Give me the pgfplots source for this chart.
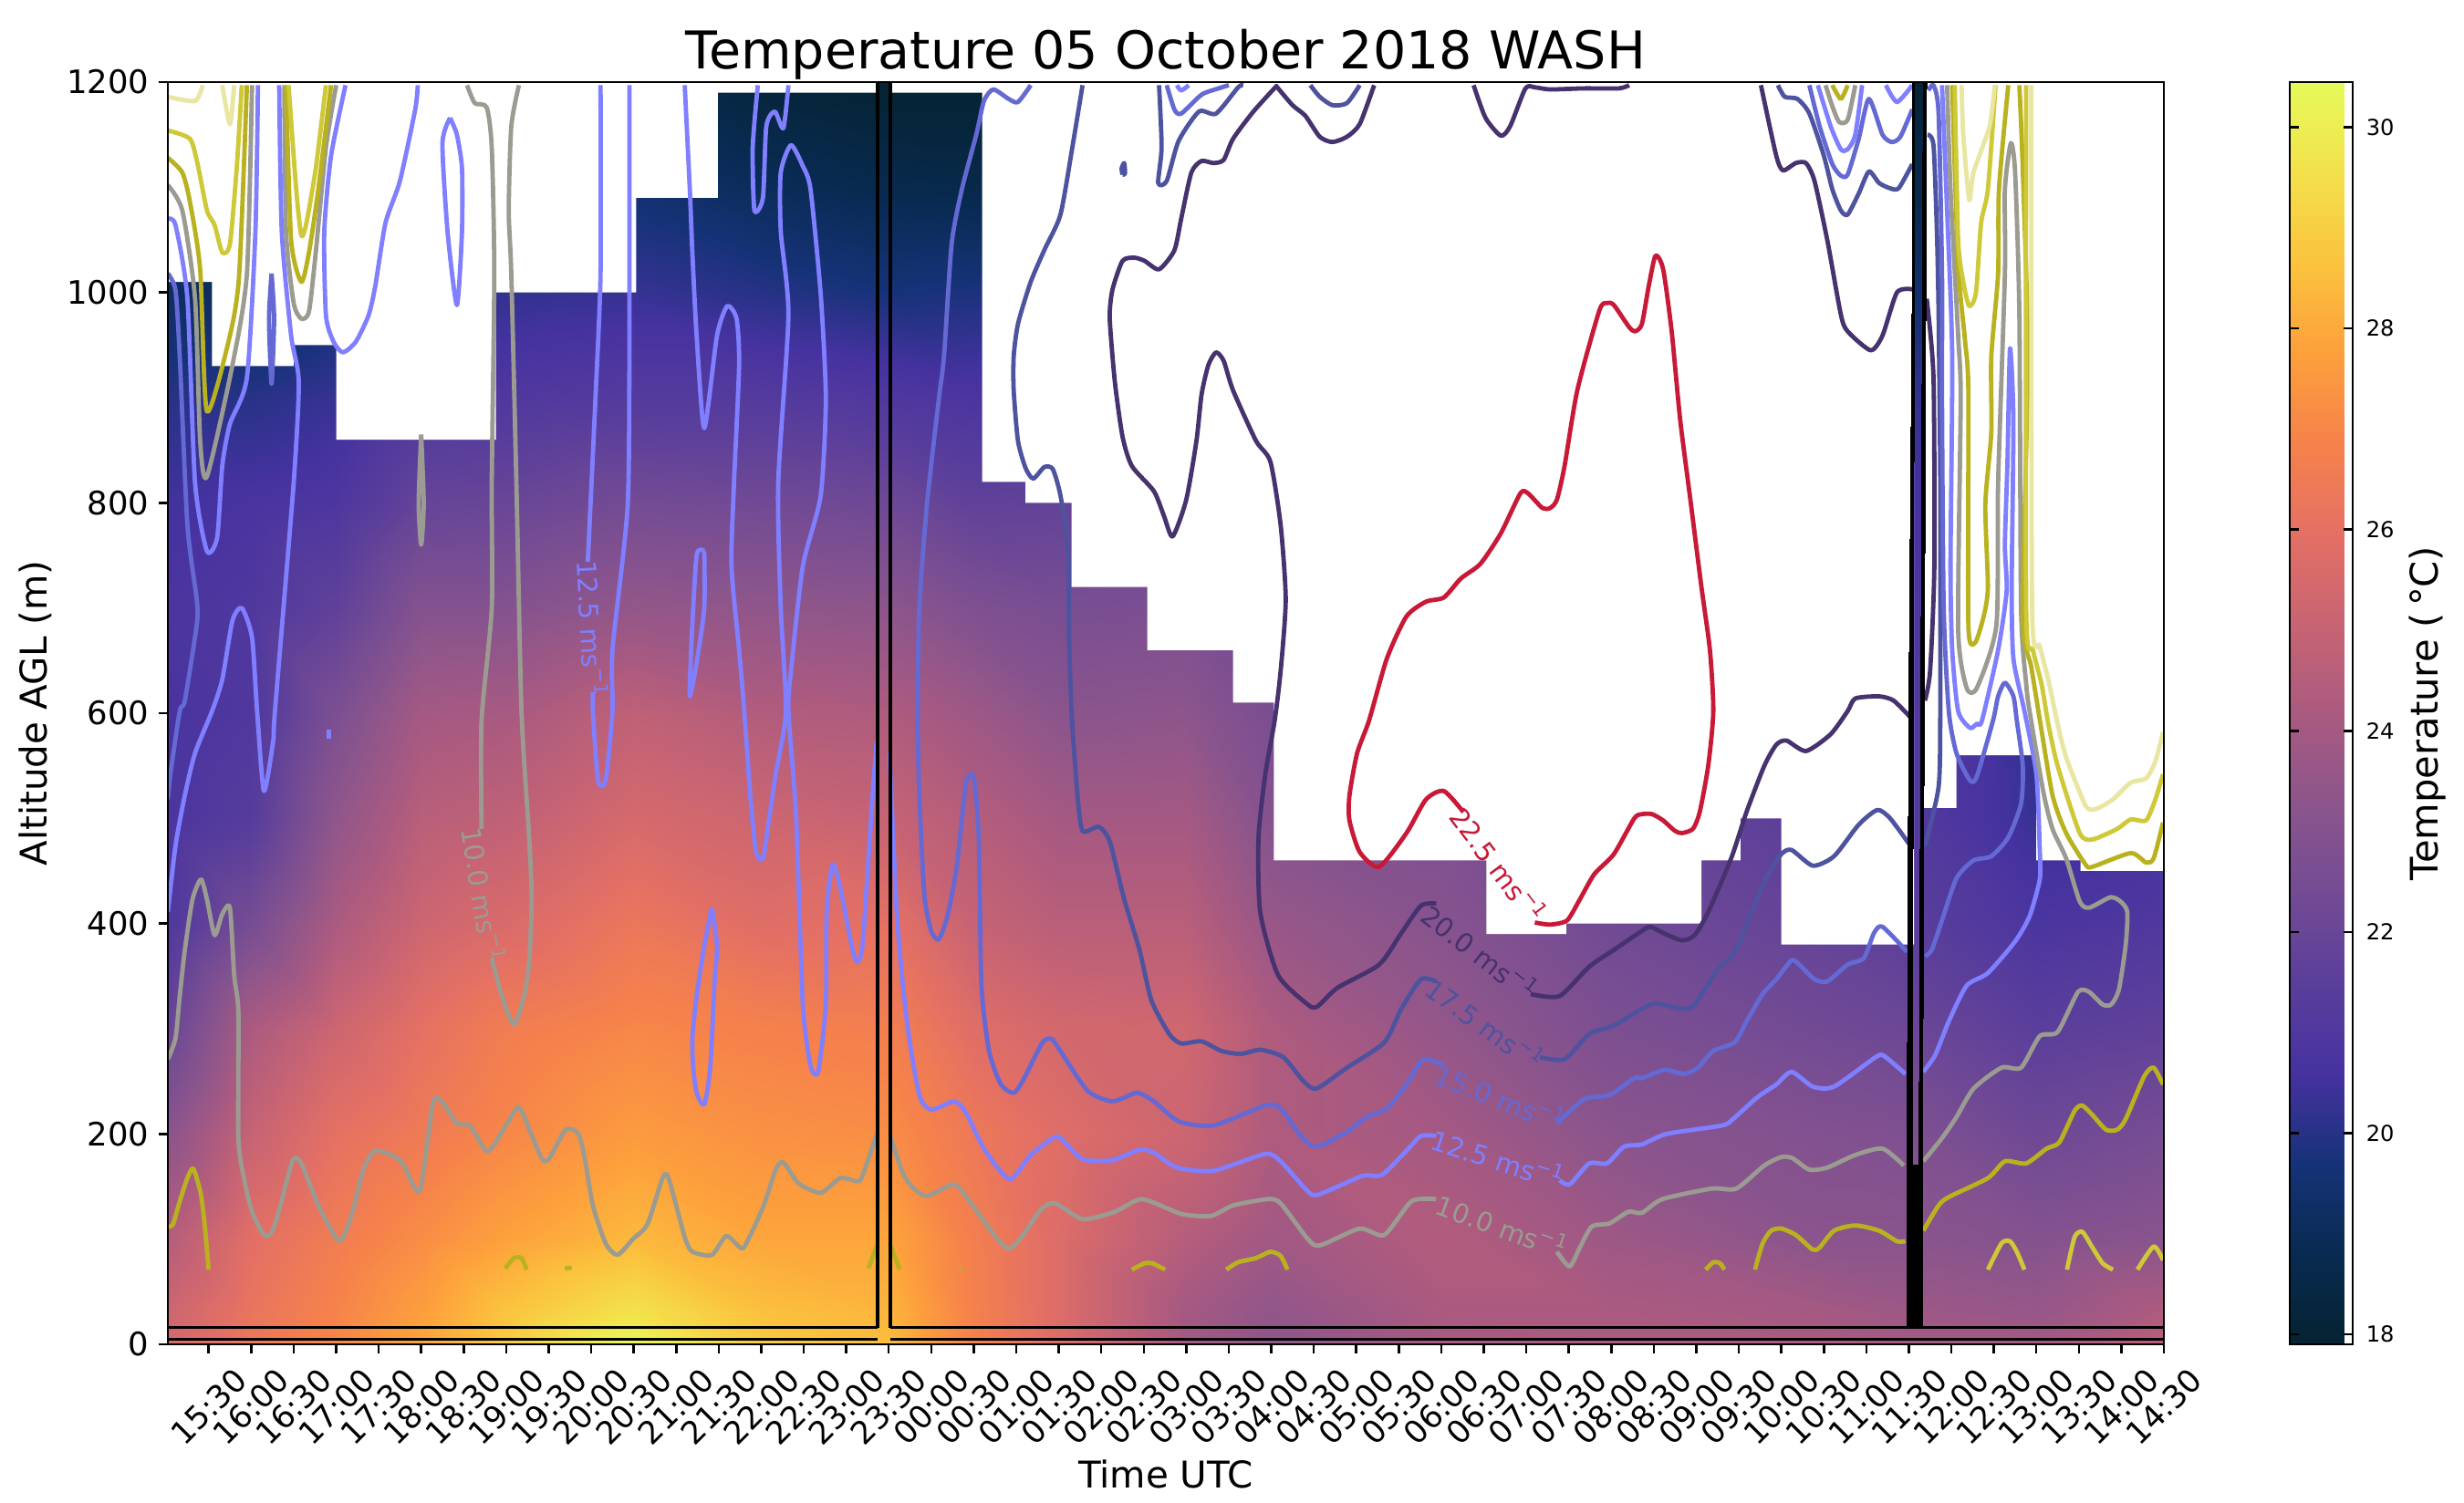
\documentclass[border=0pt]{standalone}
\usepackage{fontspec}
\setmainfont{DejaVu Sans}
\usepackage{pgfplots}
\pgfplotsset{compat=1.18}
\newcommand{\fs}[1]{\fontsize{#1}{#1}\selectfont}
\newcommand{\msu}{ms\textsuperscript{−1}}
\definecolor{c225}{RGB}{200,25,55}
\definecolor{c200}{RGB}{70,50,110}
\definecolor{c175}{RGB}{78,83,160}
\definecolor{c150}{RGB}{100,105,212}
\definecolor{c125}{RGB}{127,127,255}
\definecolor{c100}{RGB}{155,155,145}
\definecolor{c75}{RGB}{185,178,30}
\definecolor{c50}{RGB}{207,200,55}
\definecolor{c25}{RGB}{232,230,160}
\pgfplotsset{
  colormap={thermal}{rgb255=(5,35,50) rgb255=(8,42,80) rgb255=(22,50,120) rgb255=(70,50,160)
    rgb255=(90,62,155) rgb255=(115,75,148) rgb255=(140,85,140) rgb255=(170,90,128)
    rgb255=(200,100,115) rgb255=(228,112,100) rgb255=(246,130,75) rgb255=(253,160,60)
    rgb255=(251,195,62) rgb255=(243,225,75) rgb255=(230,250,90)},
  ct/.style={line width=1.15pt,line join=round,smooth,tension=0.4,forget plot},
}
\begin{document}
\begin{tikzpicture}
\useasboundingbox (-44.16pt,-41.76pt) rectangle (604.08pt,353.76pt);
\begin{axis}[
  scale only axis,
  width=525.12pt,
  height=332.16pt,
  xmin=0.02,xmax=23.5,
  ymin=0,ymax=1200,
  unbounded coords=jump,
  axis on top,
  axis line style={line width=0.65pt},
  tick style={line width=0.6pt,black},
  major tick length=2.4pt,
  tick align=outside,
  tick pos=lower,
  xtick={0.5,1,...,23.5},
  xticklabels={15:30,16:00,16:30,17:00,17:30,18:00,18:30,19:00,19:30,20:00,20:30,21:00,21:30,22:00,22:30,23:00,23:30,00:00,00:30,01:00,01:30,02:00,02:30,03:00,03:30,04:00,04:30,05:00,05:30,06:00,06:30,07:00,07:30,08:00,08:30,09:00,09:30,10:00,10:30,11:00,11:30,12:00,12:30,13:00,13:30,14:00,14:30},
  xticklabel style={font=\fs{8.3},rotate=45,anchor=center,xshift=-9.9pt,yshift=-9.9pt},
  ytick={0,200,...,1200},
  yticklabel style={font=\fs{8.5},xshift=1pt,/pgf/number format/assume math mode=true,/pgf/number format/1000 sep={}},
  xlabel={Time UTC},
  ylabel={Altitude AGL (m)},
  xlabel style={font=\fs{9.7},yshift=5pt},
  ylabel style={font=\fs{9.7},yshift=-3pt},
  title={Temperature 05 October 2018 WASH},
  title style={font=\fs{13.7},yshift=-8.8pt},
  colormap name=thermal,
  point meta min=17.9,
  point meta max=30.45,
  colorbar,
  colorbar style={
    at={(1.0631,0.5)},anchor=west,
    width=16.56pt,
    axis line style={line width=0.65pt},
    ytick={18,20,...,30},
    yticklabel style={font=\fs{5.8},/pgf/number format/assume math mode=true},
    major tick length=2.4pt,
    ylabel={Temperature (\,°C)},
    ylabel style={font=\fs{10},yshift=3pt},
  },
]
% temperature field, one line per time column: hour after 15:00, altitude, deg C
\addplot[surf,shader=interp,point meta=explicit,mesh/ordering=y varies,mesh/rows=14,mesh/cols=18,forget plot]
  table[row sep=\\,x=h,y=m,meta=T]{
h m T\\
0.02 0 25.5\\0.02 30 25.2\\0.02 100 24.5\\0.02 200 23.2\\0.02 300 22\\0.02 400 21\\0.02 500 20.8\\0.02 600 20.7\\0.02 700 20.8\\0.02 800 20.5\\0.02 900 20\\0.02 1000 19.2\\0.02 1100 18.7\\0.02 1200 18.3\\
1 0 26.3\\1 30 26.2\\1 100 25.9\\1 200 25\\1 300 24.2\\1 400 22.5\\1 500 21.3\\1 600 21\\1 700 21\\1 800 20.7\\1 900 20\\1 1000 19\\1 1100 18.6\\1 1200 18.2\\
2 0 27\\2 30 26.9\\2 100 26.6\\2 200 26\\2 300 25.2\\2 400 24.2\\2 500 23.4\\2 600 22.7\\2 700 21.7\\2 800 20.9\\2 900 20.3\\2 1000 19.5\\2 1100 19\\2 1200 18.5\\
3 0 27.9\\3 30 27.7\\3 100 27.2\\3 200 26.5\\3 300 26\\3 400 25.2\\3 500 24.6\\3 600 24\\3 700 23\\3 800 21.9\\3 900 21\\3 1000 20\\3 1100 19.3\\3 1200 18.7\\
4 0 28.9\\4 30 28.7\\4 100 27.8\\4 200 27\\4 300 26.6\\4 400 25.6\\4 500 24.8\\4 600 24.1\\4 700 23\\4 800 22\\4 900 21\\4 1000 20.2\\4 1100 19.5\\4 1200 18.8\\
5.5 0 30.4\\5.5 30 29.6\\5.5 100 28.4\\5.5 200 27.6\\5.5 300 27\\5.5 400 26.3\\5.5 500 25.5\\5.5 600 24.8\\5.5 700 23.5\\5.5 800 22.4\\5.5 900 21.2\\5.5 1000 20.3\\5.5 1100 19.5\\5.5 1200 18.8\\
7 0 28.9\\7 30 28.6\\7 100 27.9\\7 200 27.3\\7 300 26.8\\7 400 25.8\\7 500 25.2\\7 600 24.4\\7 700 23.4\\7 800 22.3\\7 900 21.2\\7 1000 20\\7 1100 19\\7 1200 18.2\\
8.5 0 28.5\\8.5 30 28.3\\8.5 100 27.9\\8.5 200 27.2\\8.5 300 26.7\\8.5 400 26\\8.5 500 25\\8.5 600 24.3\\8.5 700 23.3\\8.5 800 22.2\\8.5 900 21\\8.5 1000 19.7\\8.5 1100 18.7\\8.5 1200 17.9\\
9.5 0 26.8\\9.5 30 26.8\\9.5 100 26.7\\9.5 200 26.4\\9.5 300 25.8\\9.5 400 25\\9.5 500 24.5\\9.5 600 23.8\\9.5 700 22.8\\9.5 800 21.7\\9.5 900 20.8\\9.5 1000 19.8\\9.5 1100 18.6\\9.5 1200 17.9\\
10.5 0 25.7\\10.5 30 25.7\\10.5 100 25.7\\10.5 200 25.8\\10.5 300 25.4\\10.5 400 24.6\\10.5 500 24\\10.5 600 23.2\\10.5 700 22.6\\10.5 800 21.8\\10.5 900 21.2\\10.5 1000 20.5\\10.5 1100 19.5\\10.5 1200 18.5\\
12 0 24\\12 30 24\\12 100 24.5\\12 200 25.2\\12 300 25.3\\12 400 24.6\\12 500 24\\12 600 23.3\\12 700 22.7\\12 800 22\\12 900 21.4\\12 1000 20.7\\12 1100 20\\12 1200 19.3\\
13 0 23.4\\13 30 23.4\\13 100 23.9\\13 200 24.3\\13 300 24.3\\13 400 23.6\\13 500 23\\13 600 22.6\\13 700 22.2\\13 800 21.8\\13 900 21.3\\13 1000 20.8\\13 1100 20.2\\13 1200 19.5\\
15 0 24.1\\15 30 24.2\\15 100 24.4\\15 200 24\\15 300 23.5\\15 400 23.1\\15 500 22.8\\15 600 22.4\\15 700 22\\15 800 21.6\\15 900 21\\15 1000 20.5\\15 1100 20\\15 1200 19.5\\
17 0 24.2\\17 30 24.2\\17 100 23.8\\17 200 23.2\\17 300 22.7\\17 400 22.3\\17 500 22\\17 600 21.7\\17 700 21.4\\17 800 21\\17 900 20.6\\17 1000 20.2\\17 1100 19.8\\17 1200 19.4\\
19.5 0 24.2\\19.5 30 24\\19.5 100 23.2\\19.5 200 22.9\\19.5 300 22.3\\19.5 400 21.8\\19.5 500 21.5\\19.5 600 21.2\\19.5 700 21\\19.5 800 20.7\\19.5 900 20.3\\19.5 1000 20\\19.5 1100 19.7\\19.5 1200 19.3\\
20.5 0 24\\20.5 30 23.8\\20.5 100 23.2\\20.5 200 22.8\\20.5 300 22.1\\20.5 400 21.5\\20.5 500 21.2\\20.5 600 21.2\\20.5 700 21\\20.5 800 20.7\\20.5 900 20.3\\20.5 1000 19.5\\20.5 1100 18.7\\20.5 1200 18\\
22 0 24\\22 30 23.6\\22 100 23\\22 200 22.2\\22 300 21.5\\22 400 20.8\\22 500 20.3\\22 600 20.1\\22 700 20\\22 800 19.8\\22 900 19.6\\22 1000 19.3\\22 1100 19\\22 1200 18.5\\
23.5 0 24.6\\23.5 30 24.3\\23.5 100 23.2\\23.5 200 22.5\\23.5 300 21.7\\23.5 400 21\\23.5 500 20.6\\23.5 600 20.5\\23.5 700 20.3\\23.5 800 20.2\\23.5 900 20\\23.5 1000 19.5\\23.5 1100 19\\23.5 1200 18.5\\
};
% no data above the staircase
\addplot[fill=white,draw=none,forget plot] coordinates {(0.02,1010)(0.54,1010)(0.54,930)(1.5,930)(1.5,950)(2,950)(2,860)(3.88,860)(3.88,1000)(5.53,1000)(5.53,1090)(6.49,1090)(6.49,1190)(8.37,1190)(8.37,1200)(0.02,1200)};
\addplot[fill=white,draw=none,forget plot] coordinates {(8.52,1200)(8.52,1190)(9.6,1190)(9.6,820)(10.11,820)(10.11,800)(10.65,800)(10.65,720)(11.54,720)(11.54,660)(12.55,660)(12.55,610)(13.03,610)(13.03,460)(15.53,460)(15.53,390)(16.47,390)(16.47,400)(18.06,400)(18.06,460)(18.52,460)(18.52,500)(19,500)(19,380)(20.56,380)(20.56,1200)};
\addplot[fill=white,draw=none,forget plot] coordinates {(20.67,1200)(20.67,510)(21.06,510)(21.06,560)(22,560)(22,460)(22.52,460)(22.52,450)(23.5,450)(23.5,1200)};
% 22.5 m/s
\addplot[ct,c225] coordinates {(16.1,401)(16.28,399)(16.48,403)(16.63,423)(16.8,447)(17.03,466)(17.27,500)(17.36,504)(17.48,504)(17.61,498)(17.75,488)(17.83,486)(17.96,490)(18.04,506)(18.14,550)(18.2,602)(18.16,660)(18.06,720)(17.93,803)(17.81,879)(17.71,963)(17.61,1022)(17.52,1035)(17.44,1006)(17.36,970)(17.28,963)(17.21,967)(17.03,988)(16.95,990)(16.86,983)(16.6,907)(16.45,835)(16.36,803)(16.28,795)(16.19,795)(16.02,809)(15.93,809)(15.7,771)(15.46,742)(15.23,728)(15.03,710)(14.82,706)(14.59,692)(14.36,652)(14.15,593)(14.01,562)(13.92,522)(13.92,498)(14.04,468)(14.27,454)(14.59,486)(14.82,518)(15.03,526)(15.26,506)};
% 20 m/s
\addplot[ct,c200] coordinates {(13.07,1197)(12.79,1172)(12.55,1146)(12.44,1126)(12.32,1123)(12.18,1125)(12.06,1114)(11.94,1070)(11.86,1040)(11.68,1022)(11.51,1030)(11.39,1033)(11.25,1030)(11.13,1002)(11.1,975)(11.16,915)(11.25,863)(11.36,835)(11.62,811)(11.74,787)(11.84,768)(12,803)(12.12,859)(12.18,903)(12.26,931)(12.35,943)(12.44,935)(12.55,907)(12.82,859)(12.99,839)(13.11,779)(13.17,708)(13.11,640)(13.04,593)(12.93,542)(12.85,482)(12.87,411)(13.08,351)(13.43,323)(13.54,321)(13.78,339)(14.27,361)(14.53,391)(14.76,417)(14.94,419)(15,nan)(16.05,333)(16.39,331)(16.74,359)(17.03,375)(17.36,393)(17.46,397)(17.61,391)(17.83,384)(17.98,389)(18.14,411)(18.41,462)(18.59,506)(18.8,550)(18.94,570)(19.06,574)(19.29,564)(19.58,580)(19.78,602)(19.87,614)(20.15,616)(20.32,612)(20.52,596)(20.6,nan)(20.69,612)(20.75,640)(20.8,740)(20.79,919)(20.71,994)(20.6,nan)(20.54,1003)(20.36,1000)(20.19,959)(20.05,945)(19.78,963)(19.7,979)(19.54,1050)(19.39,1106)(19.29,1123)(19.17,1123)(19.02,1116)(18.94,1130)(18.76,1197)};
\addplot[ct,c200] coordinates {(13.05,1197)(13.25,1178)(13.4,1168)(13.57,1148)(13.72,1143)(13.89,1148)(14.04,1160)(14.21,1197)};
\addplot[ct,c200] coordinates {(15.38,1197)(15.52,1166)(15.7,1149)(15.81,1158)(15.99,1194)(16.1,1195)(16.28,1193)(16.68,1194)(17.09,1194)(17.21,1197)};
% 17.5 m/s
\addplot[ct,c175] coordinates {(10.78,1197)(10.66,1138)(10.52,1074)(10.34,1042)(10.17,1010)(10.02,970)(9.97,939)(9.97,907)(10.02,859)(10.11,833)(10.2,823)(10.33,834)(10.43,832)(10.52,807)(10.61,756)(10.62,680)(10.65,602)(10.72,522)(10.78,488)(10.97,492)(11.1,478)(11.27,423)(11.45,375)(11.59,327)(11.8,295)(11.94,286)(12.18,288)(12.41,279)(12.64,276)(12.87,280)(13.14,273)(13.37,251)(13.53,243)(13.89,263)(14.33,287)(14.53,319)(14.76,347)(14.94,345)(15,nan)(16.16,273)(16.45,271)(16.74,295)(17.03,303)(17.36,319)(17.52,324)(17.83,319)(17.98,323)(18.24,355)(18.45,373)(18.63,407)(18.84,446)(19,466)(19.12,470)(19.37,455)(19.62,464)(19.91,494)(20.13,508)(20.28,500)(20.5,476)(20.6,nan)(20.69,474)(20.85,530)(20.87,602)(20.87,819)(20.85,979)(20.83,1058)(20.79,1140)(20.72,1150)(20.6,nan)(20.54,1122)(20.38,1099)(20.28,1099)(20.15,1104)(20.03,1115)(19.91,1094)(19.78,1074)(19.7,1078)(19.6,1098)(19.5,1130)(19.33,1170)(19.19,1184)(19.04,1186)(18.96,1197)};
\addplot[ct,c175] coordinates {(13.46,1197)(13.57,1186)(13.72,1178)(13.89,1180)(14.04,1197)};
\addplot[ct,c175] coordinates {(11.68,1197)(11.71,1138)(11.67,1104)(11.77,1106)(11.91,1144)(12.15,1172)(12.35,1170)(12.61,1195)(12.67,1197)};
\addplot[ct,c175] coordinates {(11.25,1112)(11.24,1118)(11.27,1123)(11.28,1113)(11.25,1112)};
% 15 m/s
\addplot[ct,c150] coordinates {(0.02,1018)(0.11,1002)(0.16,939)(0.25,779)(0.36,708)(0.36,684)(0.22,612)(0.16,602)(0.05,542)(0.02,518)};
\addplot[ct,c150] coordinates {(1.24,1018)(1.21,975)(1.24,913)(1.27,975)(1.24,1018)};
\addplot[ct,c150] coordinates {(10.17,1197)(10.02,1181)(9.91,1184)(9.73,1193)(9.62,1182)(9.53,1150)(9.36,1098)(9.24,1046)(9.15,939)(9.09,899)(8.95,799)(8.86,700)(8.84,602)(8.86,522)(8.92,427)(9,393)(9.09,385)(9.19,407)(9.3,454)(9.41,534)(9.5,539)(9.56,482)(9.59,343)(9.68,279)(9.82,247)(9.97,239)(10.08,251)(10.31,287)(10.42,290)(10.55,275)(10.84,241)(11.13,231)(11.42,239)(11.62,231)(11.91,212)(12.32,208)(12.93,227)(13.11,224)(13.37,196)(13.54,188)(13.89,202)(14.12,216)(14.36,224)(14.59,247)(14.79,271)(15.03,265)(15.2,nan)(16.36,210)(16.68,233)(16.98,237)(17.27,253)(17.36,253)(17.63,261)(17.85,257)(18.02,263)(18.2,279)(18.45,287)(18.59,307)(18.78,333)(18.94,347)(19.12,365)(19.21,361)(19.39,347)(19.54,345)(19.78,361)(19.97,367)(20.09,391)(20.19,397)(20.48,373)(20.6,nan)(20.69,369)(20.77,375)(20.89,403)(21.06,443)(21.26,460)(21.47,464)(21.67,482)(21.82,514)(21.84,550)(21.77,593)(21.73,616)(21.63,629)(21.55,616)(21.49,593)(21.3,540)(21.22,536)(21.06,562)(20.97,602)(20.91,700)(20.89,899)(20.89,1018)(20.85,1170)(20.79,1197)(20.73,1192)(20.6,nan)(20.54,1174)(20.4,1148)(20.3,1143)(20.19,1150)(20.03,1184)(19.91,1146)(19.78,1112)(19.7,1111)(19.6,1122)(19.45,1158)(19.33,1197)};
\addplot[ct,c150] coordinates {(11.77,1197)(11.86,1174)(11.94,1170)(12.18,1188)(12.38,1194)(12.5,1197)};
% 12.5 m/s
\addplot[ct,c125] coordinates {(0.02,1070)(0.11,1064)(0.25,994)(0.34,819)(0.48,754)(0.6,767)(0.66,835)(0.75,875)(0.95,919)(1.05,1058)(1.08,1197)};
\addplot[ct,c125] coordinates {(0.02,411)(0.11,474)(0.22,522)(0.34,562)(0.54,602)(0.66,632)(0.78,688)(0.89,700)(1.01,672)(1.07,602)(1.15,526)(1.26,574)(1.28,602)(1.5,819)(1.56,915)(1.47,959)(1.36,1058)(1.33,1197)};
\addplot[ct,c125] coordinates {(1.91,576)(1.91,584)};
\addplot[ct,c125] coordinates {(2.11,1197)(1.94,1130)(1.86,1058)(1.88,978)(1.97,953)(2.08,943)(2.23,953)(2.38,978)(2.46,1006)(2.58,1066)(2.75,1106)(2.93,1174)(2.96,1197)};
\addplot[ct,c125] coordinates {(3.34,1166)(3.25,1142)(3.31,1058)(3.42,988)(3.48,1058)(3.48,1118)(3.42,1150)(3.34,1166)};
\addplot[ct,c125] coordinates {(5.11,1197)(5.11,1018)(5.05,899)(4.96,744)(5,nan)(5.02,620)(5.02,602)(5.08,536)(5.17,536)(5.25,602)(5.25,660)(5.43,799)(5.45,978)(5.45,1197)};
\addplot[ct,c125] coordinates {(6.42,415)(6.33,379)(6.24,331)(6.19,291)(6.2,263)(6.24,239)(6.33,228)(6.4,263)(6.45,343)(6.48,379)(6.42,415)};
\addplot[ct,c125] coordinates {(6.33,754)(6.24,750)(6.18,668)(6.16,616)(6.24,648)(6.33,700)(6.33,754)};
\addplot[ct,c125] coordinates {(6.96,1197)(6.9,1138)(6.92,1078)(7.02,1090)(7.06,1158)(7.16,1172)(7.26,1156)(7.32,1197)};
\addplot[ct,c125] coordinates {(6.1,1197)(6.16,1098)(6.19,1038)(6.24,959)(6.33,871)(6.48,959)(6.6,987)(6.71,975)(6.74,931)(6.68,819)(6.65,740)(6.74,660)(6.8,602)(6.88,514)(6.94,468)(7.02,462)(7.09,498)(7.17,542)(7.29,602)(7.23,700)(7.2,819)(7.32,978)(7.23,1058)(7.23,1114)(7.35,1140)(7.49,1120)(7.58,1098)(7.7,998)(7.76,899)(7.7,807)(7.49,740)(7.35,640)(7.32,602)(7.41,502)(7.49,323)(7.58,265)(7.67,259)(7.76,323)(7.77,411)(7.84,456)(7.93,434)(8.1,367)(8.19,379)(8.31,522)(8.36,574)(8.45,nan)(8.51,562)(8.6,403)(8.72,303)(8.86,237)(9,223)(9.27,231)(9.41,220)(9.62,186)(9.92,157)(10.17,180)(10.43,196)(10.52,196)(10.78,176)(11.13,175)(11.45,185)(11.62,182)(11.89,168)(12.32,165)(12.93,181)(13.11,174)(13.4,148)(13.54,142)(14.07,160)(14.3,161)(14.59,184)(14.76,198)(14.94,198)(15.2,nan)(16.39,156)(16.51,152)(16.74,172)(16.95,172)(17.15,188)(17.36,190)(17.65,200)(18.3,208)(18.43,214)(18.72,235)(18.94,247)(19.12,259)(19.37,245)(19.62,245)(20.11,273)(20.21,274)(20.46,257)(20.6,nan)(20.67,259)(20.81,275)(20.97,307)(21.18,341)(21.43,353)(21.75,383)(21.92,407)(22.04,442)(22.04,470)(22,542)(21.86,602)(21.73,652)(21.71,720)(21.73,879)(21.69,947)(21.66,839)(21.63,760)(21.65,716)(21.55,660)(21.36,593)(21.3,590)(21.22,586)(21.08,602)(21.01,660)(20.99,740)(21.01,939)(20.95,1078)(20.89,1197)};
\addplot[ct,c125] coordinates {(11.89,1197)(11.94,1192)(12.03,1197)};
\addplot[ct,c125] coordinates {(19.43,1197)(19.58,1158)(19.7,1136)(19.78,1136)(19.87,1150)(19.95,1197)};
\addplot[ct,c125] coordinates {(20.23,1197)(20.36,1181)(20.54,1197)};
% 10 m/s
\addplot[ct,c100] coordinates {(0.02,271)(0.11,291)(0.16,331)(0.22,375)(0.31,423)(0.41,442)(0.48,423)(0.57,389)(0.66,409)(0.75,415)(0.8,351)(0.85,315)(0.85,196)(0.92,156)(1.01,126)(1.15,104)(1.24,106)(1.33,128)(1.49,175)(1.59,172)(1.79,132)(2,101)(2.08,101)(2.2,128)(2.32,166)(2.46,184)(2.75,175)(2.93,148)(3,150)(3.14,230)(3.25,230)(3.42,210)(3.57,208)(3.76,184)(3.86,190)(4.11,223)(4.18,222)(4.41,178)(4.5,176)(4.7,204)(4.85,200)(4.93,174)(5.02,132)(5.17,96)(5.31,85)(5.49,100)(5.66,114)(5.84,158)(5.91,158)(6.1,102)(6.19,88)(6.42,85)(6.59,103)(6.77,91)(6.85,100)(7.03,132)(7.17,166)(7.26,173)(7.44,153)(7.7,144)(7.93,158)(8.13,155)(8.19,160)(8.36,200)(8.45,nan)(8.51,200)(8.66,164)(8.77,150)(8.95,141)(9.27,152)(9.47,134)(9.91,91)(10.29,128)(10.46,134)(10.78,119)(11.16,126)(11.48,138)(11.94,124)(12.29,122)(12.55,132)(12.96,138)(13.11,134)(13.43,100)(13.57,94)(14.04,110)(14.33,104)(14.65,136)(14.94,138)(15.2,nan)(16.36,88)(16.51,74)(16.63,92)(16.77,112)(16.98,115)(17.2,126)(17.36,125)(17.6,138)(18.18,148)(18.47,148)(18.8,170)(19,178)(19.13,177)(19.33,166)(19.54,168)(19.87,180)(20.19,186)(20.44,170)(20.6,nan)(20.67,174)(20.89,196)(21.06,216)(21.26,243)(21.59,263)(21.82,263)(22.04,293)(22.25,297)(22.49,335)(22.62,335)(22.78,323)(22.88,323)(22.97,337)(23.05,379)(23.07,411)(22.99,421)(22.87,425)(22.62,415)(22.51,421)(22.35,462)(22.19,490)(22.08,526)(21.92,602)(21.88,628)(21.82,700)(21.8,979)(21.75,1114)(21.7,1142)(21.63,1098)(21.63,1018)(21.55,819)(21.53,684)(21.3,624)(21.18,624)(21.08,680)(21.11,899)(21.08,959)(20.99,1098)(20.95,1197)};
\addplot[ct,c100] coordinates {(0.02,1102)(0.19,1078)(0.34,994)(0.4,859)(0.48,825)(0.78,931)(0.95,1018)(1.01,1197)};
\addplot[ct,c100] coordinates {(1.39,1197)(1.41,1058)(1.5,990)(1.59,975)(1.68,982)(1.76,1038)(1.88,1138)(2,1197)};
\addplot[ct,c100] coordinates {(3,865)(2.97,799)(3,760)(3.03,799)(3,865)};
\addplot[ct,c100] coordinates {(3.54,1197)(3.63,1180)(3.77,1176)(3.83,1138)(3.86,1018)(3.83,819)(3.83,700)(3.71,593)(3.71,490)(3.75,nan)(3.83,367)(3.95,331)(4.09,304)(4.21,331)(4.27,363)(4.3,423)(4.27,482)(4.18,602)(4.12,819)(4.06,1018)(4.03,1078)(4.06,1158)(4.15,1197)};
\addplot[ct,c100] coordinates {(19.52,1197)(19.6,1177)(19.68,1162)(19.78,1164)(19.87,1197)};
% 7.5 m/s
\addplot[ct,c75] coordinates {(0.02,1128)(0.19,1114)(0.28,1086)(0.4,1022)(0.48,887)(0.75,959)(0.86,1018)(0.95,1197)};
\addplot[ct,c75] coordinates {(1.41,1197)(1.47,1050)(1.59,1010)(1.68,1038)(1.79,1098)(1.94,1197)};
\addplot[ct,c75] coordinates {(0.02,112)(0.08,114)(0.16,136)(0.25,158)(0.32,167)(0.41,142)(0.46,108)(0.5,71)};
\addplot[ct,c75] coordinates {(3.99,72)(4.09,82)(4.18,82)(4.24,71)};
\addplot[ct,c75] coordinates {(4.69,72)(4.77,73)};
\addplot[ct,c75] coordinates {(8.26,72)(8.36,94)};
\addplot[ct,c75] coordinates {(8.51,96)(8.63,71)};
\addplot[ct,c75] coordinates {(9.34,71)(9.35,73)};
\addplot[ct,c75] coordinates {(11.36,71)(11.51,77)(11.6,77)(11.75,71)};
\addplot[ct,c75] coordinates {(12.47,71)(12.61,78)(12.82,82)(12.99,88)(13.11,84)(13.19,71)};
\addplot[ct,c75] coordinates {(18.11,71)(18.2,78)(18.28,77)(18.33,71)};
\addplot[ct,c75] coordinates {(18.69,71)(18.78,96)(18.88,108)(19,110)(19.17,104)(19.37,90)(19.45,92)(19.62,108)(19.87,113)(20.15,108)(20.36,98)(20.46,98)};
\addplot[ct,c75] coordinates {(20.67,108)(20.85,132)(20.97,140)(21.43,158)(21.63,174)(21.88,172)(22.12,186)(22.27,192)(22.45,222)(22.54,227)(22.66,218)(22.82,204)(22.95,204)(23.05,214)(23.27,255)(23.38,263)(23.49,247)};
\addplot[ct,c75] coordinates {(19.6,1197)(19.7,1184)(19.78,1197)};
\addplot[ct,c75] coordinates {(21.01,1197)(21.08,1026)(21.16,955)(21.2,907)(21.2,684)(21.28,667)(21.38,692)(21.43,720)(21.4,799)(21.47,867)(21.47,939)(21.55,1018)(21.56,1098)(21.67,1197)};
\addplot[ct,c75] coordinates {(21.8,1197)(21.84,1118)(21.9,939)(21.84,692)(21.94,644)(22.04,594)(22.19,522)(22.35,486)(22.58,456)(22.66,454)(23.11,467)(23.29,458)(23.38,462)(23.49,496)};
% 5 m/s
\addplot[ct,c50] coordinates {(0.02,1154)(0.28,1146)(0.37,1122)(0.48,1078)(0.57,1064)(0.66,1038)(0.75,1046)(0.83,1118)(0.89,1197)};
\addplot[ct,c50] coordinates {(1.44,1197)(1.53,1098)(1.59,1054)(1.65,1066)(1.76,1118)(1.88,1197)};
\addplot[ct,c50] coordinates {(21.04,1197)(21.08,1050)(21.14,1010)(21.21,987)(21.29,1000)(21.35,1066)(21.43,1098)(21.52,1197)};
\addplot[ct,c50] coordinates {(21.88,1197)(21.88,700)(21.96,660)(22.06,628)(22.14,590)(22.25,550)(22.51,486)(22.66,480)(22.95,490)(23.11,499)(23.29,498)(23.4,518)(23.49,542)};
\addplot[ct,c50] coordinates {(21.43,71)(21.59,96)(21.69,98)(21.77,88)(21.86,71)};
\addplot[ct,c50] coordinates {(22.36,71)(22.45,102)(22.54,107)(22.66,92)(22.78,77)(22.9,71)};
\addplot[ct,c50] coordinates {(23.19,71)(23.38,93)(23.49,80)};
% 2.5 m/s
\addplot[ct,c25] coordinates {(0.02,1186)(0.34,1182)(0.43,1197)};
\addplot[ct,c25] coordinates {(0.66,1197)(0.75,1160)(0.8,1197)};
\addplot[ct,c25] coordinates {(21.12,1197)(21.14,1150)(21.21,1088)(21.26,1114)(21.45,1158)(21.51,1197)};
\addplot[ct,c25] coordinates {(21.94,1197)(21.95,700)(22.04,664)(22.14,632)(22.25,590)(22.35,558)(22.58,512)(22.7,509)(22.9,518)(23.11,534)(23.29,538)(23.4,554)(23.49,582)};
% dark outlines of the two sounding gaps and the surface band
\addplot[black,line width=1pt,forget plot] coordinates {(8.37,16)(8.37,1200)};
\addplot[black,line width=1pt,forget plot] coordinates {(8.52,16)(8.52,1200)};
\addplot[black,line width=0.8pt,forget plot] coordinates {(0.02,16)(8.37,16)};
\addplot[black,line width=0.8pt,forget plot] coordinates {(8.52,16)(23.5,16)};
\addplot[black,line width=0.8pt,forget plot] coordinates {(0.02,4.5)(8.37,4.5)};
\addplot[black,line width=0.8pt,forget plot] coordinates {(8.52,4.5)(23.5,4.5)};
\addplot[black,fill=black,line width=0pt,forget plot] coordinates {(20.54,1200)(20.54,1000)(20.52,800)(20.5,600)(20.49,400)(20.48,200)(20.48,16)(20.66,16)(20.66,170)(20.71,1200)(20.67,1200)(20.62,170)(20.54,170)(20.57,1200)};
% contour labels
\node[c225,font=\fs{7},rotate=-53] at (axis cs:15.68,456) {22.5 \msu};
\node[c200,font=\fs{7},rotate=-38] at (axis cs:15.46,373) {20.0 \msu};
\node[c175,font=\fs{7},rotate=-36] at (axis cs:15.52,305) {17.5 \msu};
\node[c150,font=\fs{7},rotate=-22] at (axis cs:15.7,235) {15.0 \msu};
\node[c125,font=\fs{7},rotate=-18] at (axis cs:15.67,177) {12.5 \msu};
\node[c100,font=\fs{7},rotate=-20] at (axis cs:15.72,113) {10.0 \msu};
\node[c125,font=\fs{7},rotate=-87] at (axis cs:5.02,680) {12.5 \msu};
\node[c100,font=\fs{7},rotate=-81] at (axis cs:3.74,427) {10.0 \msu};
\end{axis}
\end{tikzpicture}
\end{document}
